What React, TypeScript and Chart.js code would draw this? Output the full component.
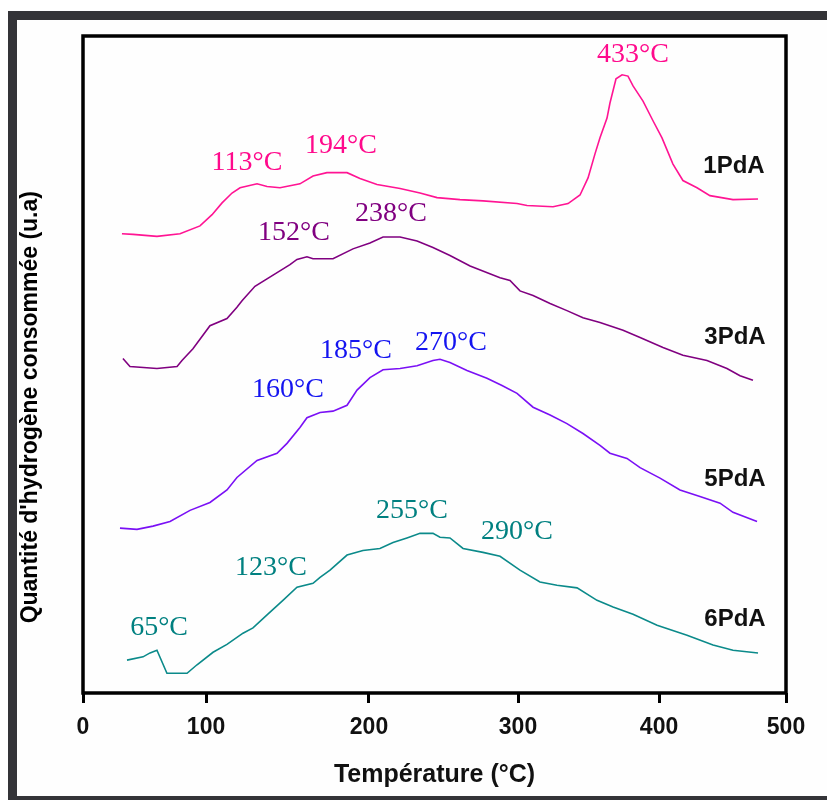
import { useEffect, useRef } from "react";
import { Chart, registerables } from "chart.js";

Chart.register(...registerables);

// X axis tick marks (positions on the drawn axis) and their printed labels
const xTickValues = [0, 87.5, 203.4, 309.4, 409.7, 500];
const xTickLabels = ["0", "100", "200", "300", "400", "500"];

// 1PdA
const temp1PdA = [27.7, 35.6, 52.6, 69.0, 83.2, 91.8, 98.9, 106.0, 111.7, 123.8, 130.9, 140.1, 154.3, 163.6, 173.5, 187.8, 197.0, 209.1, 225.5, 239.7, 251.8, 268.1, 284.5, 308.7, 315.8, 334.3, 345.0, 353.5, 359.2, 364.2, 367.7, 372.7, 374.8, 379.1, 383.4, 387.6, 391.2, 398.3, 405.4, 411.8, 419.6, 426.7, 436.7, 445.9, 462.3, 480.1];
const h2_1PdA = [69.9, 69.8, 69.5, 69.9, 71.1, 72.8, 74.6, 76.1, 76.9, 77.5, 77.1, 76.9, 77.5, 78.7, 79.2, 79.2, 78.3, 77.4, 76.8, 76.1, 75.4, 75.1, 74.9, 74.5, 74.2, 74.0, 74.5, 75.8, 78.4, 82.1, 84.5, 87.5, 89.8, 93.5, 94.1, 93.9, 92.4, 90.1, 87.1, 84.5, 80.5, 78.0, 76.9, 75.7, 75.1, 75.2];

// 3PdA
const temp3PdA = [28.4, 33.4, 52.6, 66.9, 70.4, 78.2, 90.3, 102.4, 109.5, 113.1, 122.3, 136.6, 147.2, 152.2, 159.3, 163.6, 177.8, 192.0, 204.1, 213.4, 225.5, 237.6, 248.9, 261.0, 275.3, 296.6, 303.7, 310.8, 320.1, 332.2, 344.2, 355.6, 367.7, 384.1, 396.2, 412.5, 426.7, 443.8, 458.0, 467.3, 476.5];
const h2_3PdA = [50.9, 49.7, 49.4, 49.7, 50.6, 52.4, 55.9, 57.0, 58.7, 59.7, 61.9, 63.8, 65.2, 66.0, 66.4, 66.1, 66.1, 67.6, 68.5, 69.4, 69.4, 68.8, 67.8, 66.6, 65.0, 63.2, 62.8, 61.2, 60.5, 59.3, 58.2, 57.1, 56.4, 55.2, 54.1, 52.6, 51.4, 50.6, 49.4, 48.3, 47.6];

// 5PdA
const temp5PdA = [26.3, 38.4, 49.8, 61.9, 76.1, 90.3, 102.4, 109.5, 123.8, 138.0, 145.1, 154.3, 159.3, 168.6, 177.8, 187.8, 194.9, 204.1, 213.4, 225.5, 237.6, 248.9, 253.9, 261.0, 273.1, 287.3, 298.0, 308.7, 320.1, 332.2, 344.2, 355.6, 367.7, 374.8, 386.9, 396.2, 410.4, 424.6, 438.8, 453.1, 462.3, 479.4];
const h2_5PdA = [25.1, 24.9, 25.4, 26.1, 27.8, 29.0, 30.9, 32.8, 35.4, 36.5, 38.0, 40.4, 41.9, 42.7, 42.9, 43.8, 46.1, 48.0, 49.2, 49.4, 49.8, 50.6, 50.8, 50.3, 49.1, 47.9, 46.8, 45.6, 43.5, 42.3, 41.0, 39.5, 37.7, 36.5, 35.7, 34.3, 32.7, 30.9, 29.9, 28.9, 27.5, 26.1];

// 6PdA
const temp6PdA = [31.3, 42.7, 47.7, 52.6, 59.7, 74.0, 81.1, 92.5, 102.4, 113.8, 120.9, 130.9, 142.2, 152.2, 163.6, 168.6, 175.7, 187.8, 199.1, 211.2, 220.5, 230.4, 239.7, 248.9, 253.9, 261.0, 270.3, 284.5, 296.6, 310.8, 325.0, 337.1, 351.4, 365.6, 377.0, 391.2, 408.3, 429.6, 448.1, 462.3, 480.1];
const h2_6PdA = [5.0, 5.5, 6.1, 6.5, 3.0, 3.0, 4.3, 6.2, 7.4, 9.1, 9.9, 11.9, 14.1, 16.1, 16.7, 17.6, 18.7, 21.0, 21.7, 22.0, 22.9, 23.6, 24.3, 24.3, 23.7, 23.6, 22.0, 21.4, 20.8, 18.7, 16.9, 16.4, 16.0, 14.1, 13.1, 12.0, 10.3, 8.8, 7.3, 6.5, 6.1];

const seriesNames = ["1PdA", "3PdA", "5PdA", "6PdA"];

// Peak labels (text, x value, y value, series index)
const peakTexts = ["433°C", "113°C", "194°C", "238°C", "152°C", "185°C", "270°C", "160°C", "255°C", "290°C", "123°C", "65°C"];
const peakX = [391.2, 116.6, 183.5, 219.1, 150.1, 194.2, 261.7, 145.8, 234.0, 308.7, 133.7, 54.1];
const peakY = [97.1, 80.7, 83.3, 73.0, 70.1, 52.1, 53.3, 46.1, 27.8, 24.6, 19.1, 10.0];
const peakSeries = [0, 0, 0, 1, 1, 2, 2, 2, 3, 3, 3, 3];

// Series name labels position
const nameX = [463.0, 463.7, 463.7, 463.7];
const nameY = [80.1, 54.1, 32.5, 11.2];

const lineColors = ["#ff1493", "#800080", "#7a10f5", "#0b8a8a"];
const labelColors = ["#ff0a8c", "#800080", "#1414f0", "#008080"];

const zip = (xs: number[], ys: number[]) => xs.map((x, i) => ({ x, y: ys[i] }));

const sansFamily = "'Liberation Sans', Arial, sans-serif";

const decorPlugin = {
  id: "decor",
  afterDraw(chart: any) {
    const { ctx, chartArea: a, scales } = chart;
    const xs = scales.x;
    const ys = scales.y;
    ctx.save();
    // plot frame
    ctx.strokeStyle = "#000";
    ctx.lineWidth = 3.5;
    ctx.strokeRect(a.left, a.top, a.right - a.left, a.bottom - a.top);

    ctx.textAlign = "center";
    ctx.textBaseline = "middle";
    // peak temperature labels
    ctx.font = "28px 'Liberation Serif', 'Times New Roman', serif";
    peakTexts.forEach((t, i) => {
      ctx.fillStyle = labelColors[peakSeries[i]];
      ctx.fillText(t, xs.getPixelForValue(peakX[i]), ys.getPixelForValue(peakY[i]));
    });
    // series names
    ctx.font = "bold 24px " + sansFamily;
    ctx.fillStyle = "#111";
    seriesNames.forEach((t, i) => {
      ctx.fillText(t, xs.getPixelForValue(nameX[i]), ys.getPixelForValue(nameY[i]));
    });
    // y axis title
    ctx.translate(31, a.top + (a.bottom - a.top) * 0.565);
    ctx.rotate(-Math.PI / 2);
    ctx.font = "bold 23px " + sansFamily;
    ctx.fillStyle = "#000";
    ctx.fillText("Quantité d'hydrogène consommée (u.a)", 0, 0);
    ctx.restore();
  },
};

export default function App() {
  const ref = useRef<HTMLCanvasElement>(null);

  useEffect(() => {
    if (!ref.current) return;
    const datasets = [
      zip(temp1PdA, h2_1PdA),
      zip(temp3PdA, h2_3PdA),
      zip(temp5PdA, h2_5PdA),
      zip(temp6PdA, h2_6PdA),
    ].map((data, i) => ({
      label: seriesNames[i],
      data,
      borderColor: lineColors[i],
      backgroundColor: lineColors[i],
      borderWidth: 1.6,
      pointRadius: 0,
      tension: 0,
      fill: false,
    }));

    const chart = new Chart(ref.current, {
      type: "line",
      data: { datasets },
      plugins: [decorPlugin],
      options: {
        animation: false,
        responsive: false,
        devicePixelRatio: 1,
        layout: { padding: { top: 36, right: 41, bottom: 0, left: 0 } },
        plugins: { legend: { display: false }, tooltip: { enabled: false } },
        scales: {
          x: {
            type: "linear",
            min: 0,
            max: 500,
            afterFit: (s: any) => {
              s.height = 107;
            },
            afterBuildTicks: (s: any) => {
              s.ticks = xTickValues.map((v) => ({ value: v }));
            },
            grid: {
              drawOnChartArea: false,
              drawTicks: true,
              tickLength: 10,
              lineWidth: 3,
              color: "#000",
            },
            border: { display: false },
            ticks: {
              autoSkip: false,
              maxRotation: 0,
              padding: 11,
              color: "#111",
              font: { family: sansFamily, size: 23, weight: "bold" },
              callback: (_v: any, i: number) => xTickLabels[i],
            },
            title: {
              display: true,
              text: "Température (°C)",
              color: "#111",
              font: { family: sansFamily, size: 25, weight: "bold" },
              padding: { top: 0, bottom: 10 },
            },
          },
          y: {
            type: "linear",
            min: 0,
            max: 100,
            afterFit: (s: any) => {
              s.width = 83;
            },
            grid: { display: false },
            border: { display: false },
            ticks: { display: false },
          },
        },
      },
    });
    return () => chart.destroy();
  }, []);

  return (
    <>
      <div
        style={{
          position: "fixed",
          left: 8,
          top: 11,
          width: 819,
          height: 789,
          boxSizing: "border-box",
          borderTop: "9px solid #343438",
          borderLeft: "9px solid #343438",
          borderBottom: "4px solid #343438",
          background: "#fefefe",
        }}
      />
      <canvas ref={ref} width={827} height={800} style={{ position: "fixed", left: 0, top: 0 }} />
    </>
  );
}
